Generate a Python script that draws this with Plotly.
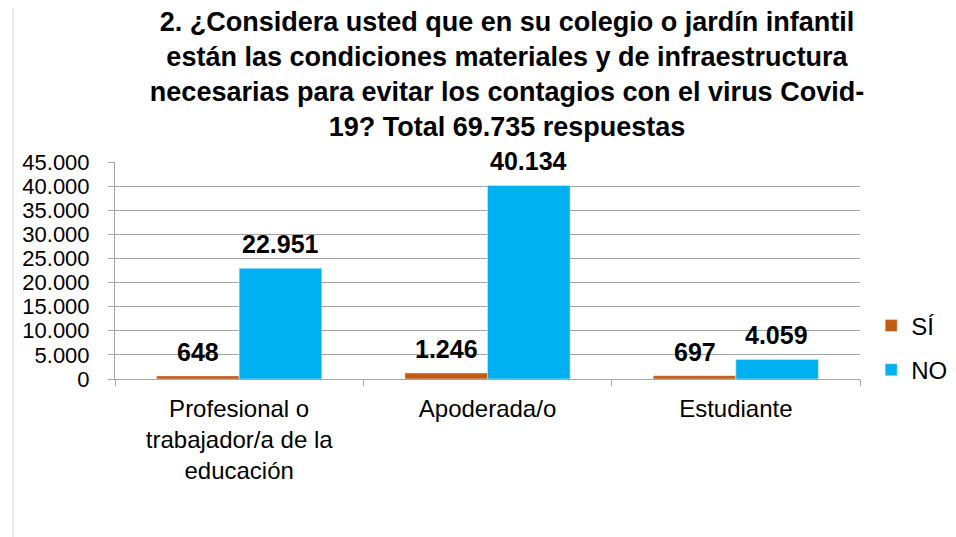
import plotly.graph_objects as go

categorias = ['Profesional o<br>trabajador/a de la<br>educación', 'Apoderada/o', 'Estudiante']
si = [648, 1246, 697]
no = [22951, 40134, 4059]
y_ticks = [0, 5000, 10000, 15000, 20000, 25000, 30000, 35000, 40000, 45000]

color_si = '#C55A11'
color_no = '#00B0F0'

fig = go.Figure()
fig.add_trace(go.Bar(x=categorias, y=si, name='SÍ', marker_color=color_si,
                     legendgroup='si'))
fig.add_trace(go.Bar(x=categorias, y=no, name='NO', marker_color=color_no,
                     legendgroup='no'))

def fmt(v):
    return f'{v:,}'.replace(',', '.')

annotations = []
for vals, shift in [(si, -41), (no, 41)]:
    for c, v in zip(categorias, vals):
        annotations.append(dict(x=c, y=v, xref='x', yref='y', text='<b>' + fmt(v) + '</b>',
                                showarrow=False, xshift=shift, yshift=8, yanchor='bottom',
                                font=dict(size=25, color='black')))

# the page body adds 8px, so the layout is offset by -8px
fig.update_layout(
    width=956, height=537,
    paper_bgcolor='white', plot_bgcolor='white',
    font=dict(family='Liberation Sans, Arial', color='black'),
    title=dict(
        text='<b>2. ¿Considera usted que en su colegio o jardín infantil<br>'
             'están las condiciones materiales y de infraestructura<br>'
             'necesarias para evitar los contagios con el virus Covid-<br>'
             '19? Total 69.735 respuestas</b>',
        x=499 / 956, xanchor='center', xref='container',
        y=1 - 23 / 537, yanchor='top', yref='container',
        font=dict(size=27, color='black')),
    margin=dict(l=107, r=104, t=154, b=166),
    barmode='group', bargap=0.335, bargroupgap=0,
    showlegend=True,
    legend=dict(x=1.015, y=0.143, xanchor='left', yanchor='middle', xref='paper',
                font=dict(size=24), tracegroupgap=10, itemwidth=30),
    xaxis=dict(showline=True, linecolor='#a6a6a6', linewidth=1,
               ticks='outside', tickson='boundaries', ticklen=6, tickcolor='#a6a6a6',
               tickfont=dict(size=24), showgrid=False, ticklabelstandoff=8),
    yaxis=dict(range=[0, 45000], tickvals=y_ticks,
               ticktext=[fmt(v) for v in y_ticks],
               showline=True, linecolor='#a6a6a6', linewidth=1,
               ticks='outside', ticklen=6, tickcolor='#a6a6a6',
               showgrid=True, gridcolor='#a6a6a6', gridwidth=1,
               tickfont=dict(size=22), zeroline=False, ticklabelstandoff=14),
    annotations=annotations,
    shapes=[dict(type='rect', xref='paper', yref='paper',
                 x0=(5 - 107) / 745, x1=(1000 - 107) / 745,
                 y0=(371 - 600) / 217, y1=(371 + 6) / 217,
                 line=dict(color='#d9d9d9', width=1), layer='below')],
)

fig.write_html('out.html')
